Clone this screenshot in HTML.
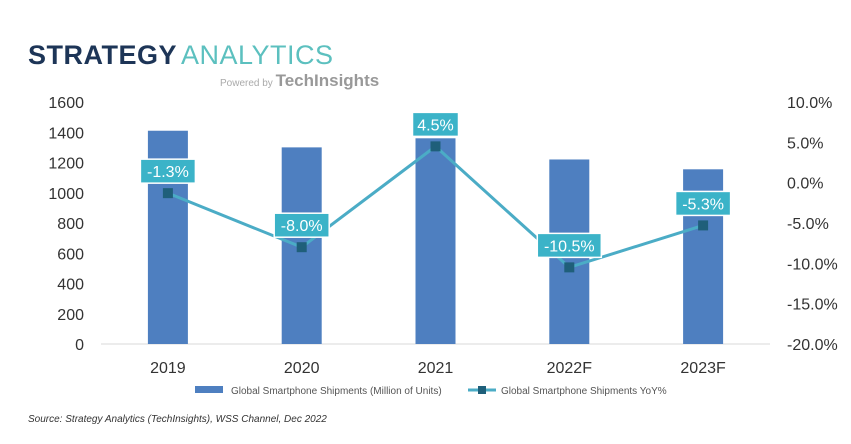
<!DOCTYPE html>
<html><head><meta charset="utf-8"><style>
body{margin:0;background:#fff;width:851px;height:439px;overflow:hidden;font-family:"Liberation Sans",sans-serif}
</style></head><body>
<svg id="chart" width="851" height="439" xmlns="http://www.w3.org/2000/svg" font-family="Liberation Sans, sans-serif">
<g>
<text x="28" y="64" font-size="27" font-weight="bold" fill="#1d3557" letter-spacing="0.5">STRATEGY<tspan fill="#5cc0bf" font-weight="normal" dx="4">ANALYTICS</tspan></text>
<text x="220" y="86" font-size="10" fill="#aaa">Powered by <tspan font-size="17" font-weight="bold" fill="#999">TechInsights</tspan></text>
</g>
<g id="axes"></g>
<g id="bars"></g>
<g id="line"></g>
<g>
<rect x="195" y="386" width="28" height="7" fill="#4e7fc0"/>
<text x="231" y="394" font-size="10" fill="#555">Global Smartphone Shipments (Million of Units)</text>
<line x1="468" y1="390" x2="496" y2="390" stroke="#4bacc6" stroke-width="3"/>
<rect x="478" y="386" width="8" height="8" fill="#1f5f7a"/>
<text x="501" y="394" font-size="10" fill="#555">Global Smartphone Shipments YoY%</text>
</g>
<text x="28" y="422" font-size="10" font-style="italic" fill="#333">Source: Strategy Analytics (TechInsights), WSS Channel, Dec 2022</text>
</svg>
<script>
const categories=["2019","2020","2021","2022F","2023F"];
const shipments=[1410,1300,1360,1220,1155];
const yoy=[-1.3,-8.0,4.5,-10.5,-5.3];
const leftTicks=[0,200,400,600,800,1000,1200,1400,1600];
const rightTicks=[10,5,0,-5,-10,-15,-20];
const NS="http://www.w3.org/2000/svg";
const pTop=102,pBot=344,pLeft=101,pRight=770;
const yL=v=>pBot-(v/1600)*(pBot-pTop);
const yR=v=>pBot-((v+20)/30)*(pBot-pTop);
const step=(pRight-pLeft)/categories.length;
const xC=i=>pLeft+step*(i+0.5);
function mk(tag,attrs,parent,text){const e=document.createElementNS(NS,tag);for(const k in attrs)e.setAttribute(k,attrs[k]);if(text!==undefined)e.textContent=text;document.getElementById(parent).appendChild(e);return e;}
leftTicks.forEach(t=>{const e=mk("text",{x:84,y:yL(t)+6,"font-size":16,fill:"#333","text-anchor":"end"},"axes",t);

});
rightTicks.forEach(t=>{const e=mk("text",{x:787,y:yR(t)+6,"font-size":16,fill:"#333"},"axes",t.toFixed(1)+"%");

});
const ax=mk("line",{x1:pLeft,x2:pRight,y1:pBot,y2:pBot,stroke:"#d9d9d9","stroke-width":1},"axes");


categories.forEach((c,i)=>{const e=mk("text",{x:xC(i),y:373,"font-size":16,fill:"#333","text-anchor":"middle"},"axes",c);

});
shipments.forEach((v,i)=>{const b=mk("rect",{x:xC(i)-20,y:yL(v),width:40,height:pBot-yL(v),fill:"#4e7fc0"},"bars");

});
const pl=mk("polyline",{points:yoy.map((v,i)=>xC(i)+","+yR(v)).join(" "),fill:"none",stroke:"#4bacc6","stroke-width":3},"line");


yoy.forEach((v,i)=>{const x=xC(i),y=yR(v);
const m=mk("rect",{x:x-5,y:y-5,width:10,height:10,fill:"#1f5f7a"},"line");


const lab=v.toFixed(1)+"%";const w=lab.length*9+10;const ly=y-22;
const r=mk("rect",{x:x-w/2,y:ly-12,width:w,height:24,fill:"#3bb3c8",stroke:"#fff","stroke-width":1.5},"line");


const t=mk("text",{x:x,y:ly+6,"font-size":16,fill:"#fff","text-anchor":"middle"},"line",lab);

});
</script>
</body></html>
